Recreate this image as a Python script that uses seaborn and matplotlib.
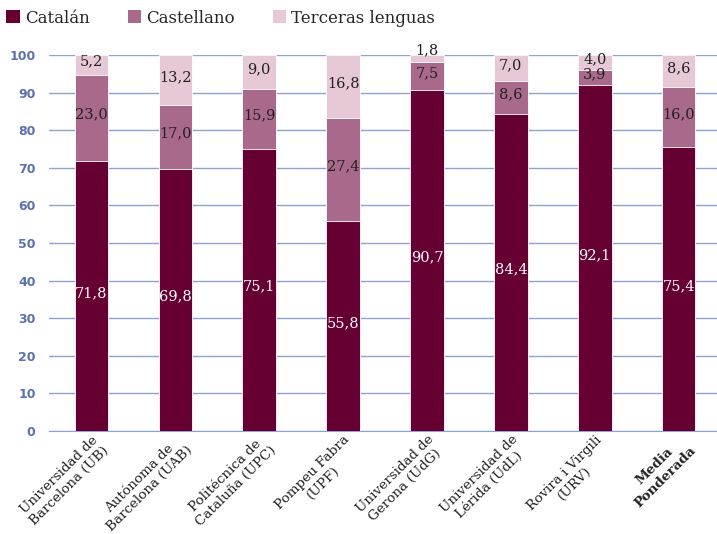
import numpy as np
import pandas as pd
import matplotlib.pyplot as plt
import seaborn as sns
from matplotlib.patches import Patch

# ---------------------------------------------------------------------------
# Data
# ---------------------------------------------------------------------------
universidades = [
    "Universidad de\nBarcelona (UB)",
    "Autónoma de\nBarcelona (UAB)",
    "Politécnica de\nCataluña (UPC)",
    "Pompeu Fabra\n(UPF)",
    "Universidad de\nGerona (UdG)",
    "Universidad de\nLérida (UdL)",
    "Rovira i Virgili\n(URV)",
    "Media\nPonderada",
]
catalan = [71.8, 69.8, 75.1, 55.8, 90.7, 84.4, 92.1, 75.4]
castellano = [23.0, 17.0, 15.9, 27.4, 7.5, 8.6, 3.9, 16.0]
terceras = [5.2, 13.2, 9.0, 16.8, 1.8, 7.0, 4.0, 8.6]

series = ["Catalán", "Castellano", "Terceras lenguas"]
colors = ["#660033", "#a8698a", "#e6c8d6"]
GRID = "#8ea2d4"

# ---------------------------------------------------------------------------
# Aesthetics
# ---------------------------------------------------------------------------
sns.set_style("white")
plt.rcParams["font.family"] = ["DejaVu Serif"]

df = pd.DataFrame({"uni": universidades, "cat": catalan,
                   "cas": castellano, "ter": terceras})
df["c1"] = df["cat"]
df["c2"] = df["cat"] + df["cas"]
df["c3"] = df["c2"] + df["ter"]

fig = plt.figure(figsize=(7.17, 5.34), dpi=100)
ax = fig.add_axes([0.069, 0.193, 0.936, 0.704])

# layered cumulative bars (top layer first)
for col, color in zip(["c3", "c2", "c1"], colors[::-1]):
    sns.barplot(data=df, x="uni", y=col, color=color, saturation=1, width=0.4,
                edgecolor="white", linewidth=0.6, ax=ax, zorder=3)

ax.set_ylim(0, 100)
ax.set_xlim(-0.5, 7.44)
ax.set_yticks(range(0, 101, 10))
ax.yaxis.grid(True, color=GRID, linewidth=1.0, zorder=0)
ax.set_axisbelow(True)
for s in ["top", "right", "left"]:
    ax.spines[s].set_visible(False)
ax.spines["bottom"].set_color(GRID)
ax.set_xlabel("")
ax.set_ylabel("")

ax.tick_params(axis="y", length=4, width=1.0, color=GRID, labelsize=9,
               labelcolor="#5a72b0", pad=6)
for lbl in ax.get_yticklabels():
    lbl.set_family("DejaVu Sans")
    lbl.set_fontweight("bold")

# x ticks: labels at centres, tick marks at boundaries
ax.set_xticks(range(len(universidades)))
ax.set_xticklabels(universidades, rotation=45, ha="right",
                   rotation_mode="anchor", fontsize=9.7, color="#222222",
                   multialignment="center")
ax.get_xticklabels()[-1].set_fontweight("bold")
ax.tick_params(axis="x", length=0, pad=1.5)
ax.set_xticks(np.arange(-0.5, len(universidades), 1), minor=True)
ax.tick_params(axis="x", which="minor", length=4, color=GRID, direction="out")

# value labels
for i in range(len(df)):
    c, s, t = catalan[i], castellano[i], terceras[i]
    ax.text(i, c / 2 + 0.8, f"{c:.1f}".replace(".", ","), ha="center",
            va="center", color="white", fontsize=10.5, zorder=5)
    ax.text(i, c + s / 2 + 0.8, f"{s:.1f}".replace(".", ","), ha="center",
            va="center", color="#222222", fontsize=10.5, zorder=5)
    ty = c + s + t / 2 + 0.8 if t >= 3 else c + s + t + 1.3
    ax.text(i, ty, f"{t:.1f}".replace(".", ","), ha="center", va="center",
            color="#222222", fontsize=10.5, zorder=5, clip_on=False)

handles = [Patch(facecolor=col, edgecolor="none") for col in colors]
fig.legend(handles, series, loc="upper left", bbox_to_anchor=(-0.012, 1.01),
           ncol=3, frameon=False, fontsize=12, handlelength=0.8,
           handleheight=0.8, handletextpad=0.3, columnspacing=2.3)

fig.savefig("out.png", dpi=100)
